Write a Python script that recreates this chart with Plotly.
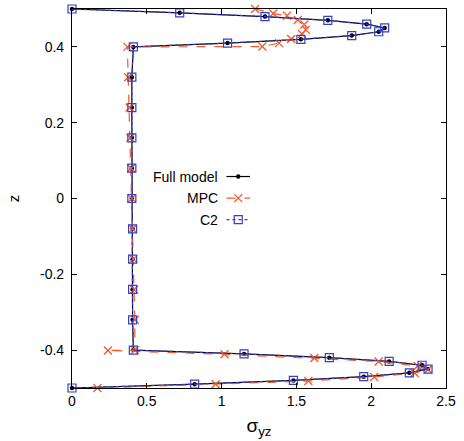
import plotly.graph_objects as go

# ---------------- data ----------------
series_names = ["Full model", "MPC", "C2"]

z_full = [0.5, 0.49, 0.48, 0.47, 0.46, 0.45, 0.44, 0.43, 0.42, 0.41, 0.40,
          0.32, 0.24, 0.16, 0.08, 0.0, -0.08, -0.16, -0.24, -0.32,
          -0.40, -0.41, -0.42, -0.43, -0.44, -0.45, -0.46, -0.47, -0.48, -0.49, -0.5]
sig_full = [0.0, 0.72, 1.29, 1.71, 1.97, 2.09, 2.05, 1.87, 1.53, 1.04, 0.41,
            0.40, 0.40, 0.40, 0.40, 0.40, 0.405, 0.405, 0.405, 0.405,
            0.41, 1.15, 1.72, 2.12, 2.34, 2.38, 2.255, 1.95, 1.48, 0.82, 0.0]

z_mpc = [0.50, 0.488, 0.482, 0.471, 0.459, 0.445, 0.434, 0.421, 0.410, 0.401, 0.40,
         0.32, 0.24, 0.16, 0.08, 0.0, -0.08, -0.16, -0.24, -0.32,
         -0.40, -0.401, -0.411, -0.421, -0.43, -0.442, -0.451, -0.4605, -0.471, -0.4816, -0.49, -0.5]
sig_mpc = [1.224, 1.345, 1.437, 1.509, 1.553, 1.564, 1.537, 1.465, 1.384, 1.272, 0.37,
           0.375, 0.385, 0.39, 0.395, 0.40, 0.405, 0.41, 0.415, 0.42,
           0.42, 0.24, 1.02, 1.62, 2.05, 2.31, 2.38, 2.29, 2.02, 1.58, 0.96, 0.17]

z_c2 = list(z_full)
sig_c2 = [0.0, 0.72, 1.29, 1.71, 1.97, 2.09, 2.05, 1.87, 1.53, 1.04, 0.41,
          0.40, 0.40, 0.40, 0.40, 0.40, 0.405, 0.405, 0.405, 0.405,
          0.41, 1.15, 1.72, 2.12, 2.34, 2.38, 2.255, 1.95, 1.48, 0.82, 0.0]

x_ticks = [0, 0.5, 1, 1.5, 2, 2.5]
x_tick_labels = ["0", "0.5", "1", "1.5", "2", "2.5"]
y_ticks = [-0.4, -0.2, 0, 0.2, 0.4]
y_tick_labels = ["-0.4", "-0.2", "0", "0.2", "0.4"]

# ---------------- styles ----------------
BLACK = "#000000"
RED = "#f25a2c"
BLUE = "#3340cc"
FONT = "Liberation Sans, Arial, sans-serif"

styles = {
    "Full model": dict(line=dict(color=BLACK, width=1.2),
                       marker=dict(symbol="circle", size=4.5, color=BLACK)),
    "MPC": dict(line=dict(color=RED, width=1.2, dash="dash"),
                marker=dict(symbol="x-thin-open", size=8, color=RED,
                            line=dict(color=RED, width=1.3))),
    "C2": dict(line=dict(color=BLUE, width=1.2, dash="dot"),
               marker=dict(symbol="square-open", size=8, color=BLUE,
                           line=dict(color=BLUE, width=1.2))),
}

data = {
    "Full model": (sig_full, z_full),
    "MPC": (sig_mpc, z_mpc),
    "C2": (sig_c2, z_c2),
}

fig = go.Figure()
for name in series_names:
    xs, ys = data[name]
    fig.add_trace(go.Scatter(x=xs, y=ys, mode="lines+markers", name=name,
                             cliponaxis=False, showlegend=False, **styles[name]))

# ---------------- gnuplot-style key (text left, sample right) ----------------
key_rows = [0.558, 0.501, 0.444]
for name, ky in zip(series_names, key_rows):
    fig.add_trace(go.Scatter(x=[0.413, 0.4445, 0.476], y=[ky, ky, ky],
                             mode="lines", xaxis="x2", yaxis="y2",
                             showlegend=False, hoverinfo="skip",
                             line=styles[name]["line"]))
    fig.add_trace(go.Scatter(x=[0.4445], y=[ky], mode="markers",
                             xaxis="x2", yaxis="y2", showlegend=False,
                             hoverinfo="skip", marker=styles[name]["marker"]))
    fig.add_annotation(x=0.395, y=ky, xref="x2", yref="y2", text=name,
                       showarrow=False, xanchor="right", yanchor="middle",
                       font=dict(family=FONT, size=14, color=BLACK))

axis_common = dict(showline=True, linecolor=BLACK, linewidth=1.2, mirror="ticks",
                   ticks="inside", ticklen=5, tickcolor=BLACK, tickwidth=1,
                   showgrid=False, zeroline=False,
                   tickfont=dict(family=FONT, size=14, color=BLACK))

fig.update_layout(
    width=464, height=441, autosize=False,
    margin=dict(l=72, r=12, t=8, b=53),
    paper_bgcolor="white", plot_bgcolor="white",
    font=dict(family=FONT, size=14, color=BLACK),
    xaxis=dict(range=[0, 2.5], tickvals=x_ticks, ticktext=x_tick_labels,
               title=dict(text="σ<sub>yz</sub>", font=dict(family=FONT, size=19),
                          standoff=10),
               **axis_common),
    yaxis=dict(range=[-0.5, 0.5], tickvals=y_ticks, ticktext=y_tick_labels,
               title=dict(text="z", font=dict(family=FONT, size=15), standoff=16),
               ticklabelstandoff=4,
               **axis_common),
    xaxis2=dict(range=[0, 1], overlaying="x", visible=False, fixedrange=True),
    yaxis2=dict(range=[0, 1], overlaying="y", visible=False, fixedrange=True),
    showlegend=False,
)

fig.write_html("out.html")
